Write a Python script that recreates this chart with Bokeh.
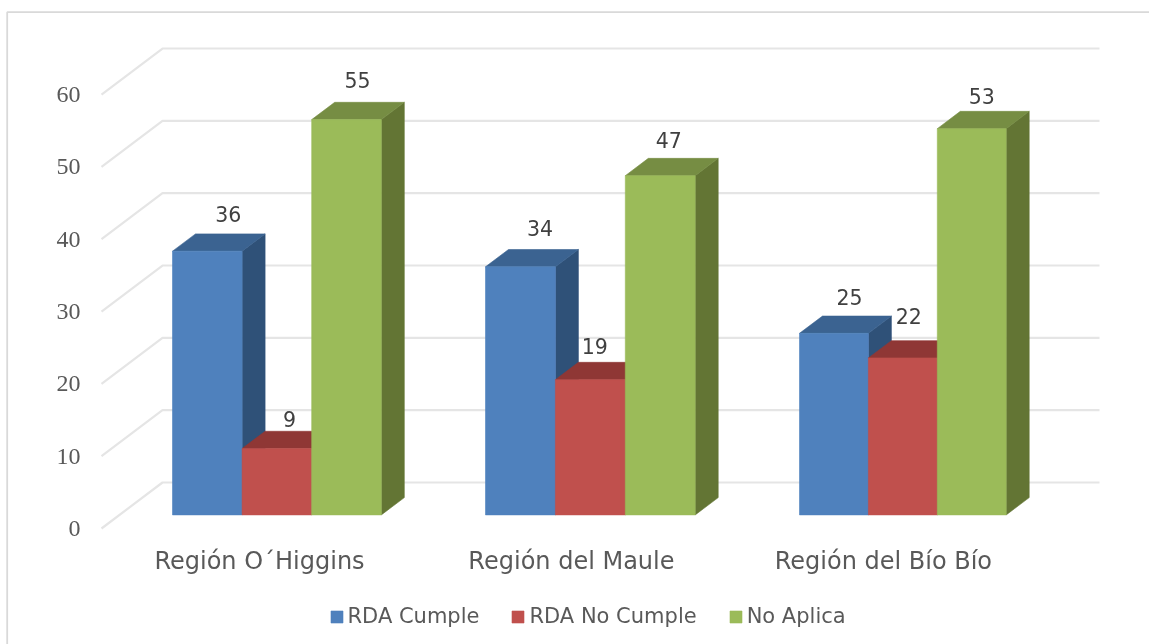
from bokeh.plotting import figure
from bokeh.embed import file_html
from bokeh.resources import INLINE
from bokeh.models import ColumnDataSource, FixedTicker, Legend, LegendItem, Range1d
from bokeh.core.properties import value

categories = ["Región O´Higgins", "Región del Maule", "Región del Bío Bío"]
rda_cumple = [36.46, 34.3, 25.1]
rda_no_cumple = [9.17, 18.7, 21.7]
no_aplica = [54.65, 46.9, 53.4]
series_names = ["RDA Cumple", "RDA No Cumple", "No Aplica"]
y_ticks = [0, 10, 20, 30, 40, 50, 60]

W, H = 1149, 644
PX_X, PX_Y = 313.5, 7.233     # pixels per category, pixels per unit
X0_PX, Y0_PX = 259.0, 528.0   # where category 0 and value 0 fall on the front plane
def dx(px): return px / PX_X
def dy(px): return px / PX_Y
def xd(px): return (px - X0_PX) / PX_X
def yd(py): return (Y0_PX - py) / PX_Y

p = figure(width=W, height=H, output_backend="svg", toolbar_location=None,
           x_range=Range1d(xd(0), xd(W)), y_range=Range1d(yd(H), yd(0)),
           min_border=0, min_border_left=0, min_border_right=0, min_border_top=0, min_border_bottom=0,
           outline_line_color=None, background_fill_color="white", border_fill_color="white")
p.styles = {"position": "fixed", "left": "0px", "top": "0px"}
p.grid.visible = False

# chart-area border
p.line([xd(6.7), xd(6.7), xd(W + 5)], [yd(H + 5), yd(11.7), yd(11.7)], line_color="#D9D9D9", line_width=1.8)

# floor-to-wall gridlines
WALL_DX, WALL_DY = 61, 46
wall_right = 1038
gx, gy = [], []
for t in y_ticks:
    gx.append([xd(101), xd(101 + WALL_DX), xd(wall_right + WALL_DX)])
    gy.append([t, t + dy(WALL_DY), t + dy(WALL_DY)])
p.multi_line(gx, gy, line_color="#E5E5E5", line_width=2.2)

# bars
FACE_DY = 13.6      # bar front plane above the wall front
DEPTH_X, DEPTH_Y = 23, 17.3
GROUP_LEFT = [172, 485, 799]
BAR_W = [69.6, 69.9, 68.9]
colors = [("#4F81BD", "#3B6391", "#2F5178"),
          ("#C0504D", "#8F3735", "#8C3836"),
          ("#9BBB59", "#768D43", "#637534")]
all_series = [rda_cumple, rda_no_cumple, no_aplica]
legend_items = []
for j, (vals, (front, top, side), name) in enumerate(zip(all_series, colors, series_names)):
    lefts = [xd(GROUP_LEFT[i]) + dx(BAR_W[i]) * j for i in range(len(vals))]
    rights = [l + dx(BAR_W[i]) for i, l in enumerate(lefts)]
    base = dy(FACE_DY)
    sx, sy, tx, ty = [], [], [], []
    for l, r, v in zip(lefts, rights, vals):
        sx.append([r, r + dx(DEPTH_X), r + dx(DEPTH_X), r])
        sy.append([base, base + dy(DEPTH_Y), base + v + dy(DEPTH_Y), base + v])
        tx.append([l, r, r + dx(DEPTH_X), l + dx(DEPTH_X)])
        ty.append([base + v, base + v, base + v + dy(DEPTH_Y), base + v + dy(DEPTH_Y)])
    p.patches(sx, sy, fill_color=side, line_color=side, line_width=0.6)
    p.patches(tx, ty, fill_color=top, line_color=top, line_width=0.6)
    src = ColumnDataSource(dict(l=lefts, r=rights, b=[base] * len(vals), t=[base + v for v in vals]))
    r_front = p.quad(left="l", right="r", bottom="b", top="t", source=src,
                     fill_color=front, line_color=front, line_width=0.6)
    legend_items.append(LegendItem(label=name, renderers=[r_front]))

# data labels (hand-placed in the original): offsets from each bar's front-face centre
label_dx = [[21, 19.5, 15.6], [12.5, 4.5, 6], [11, 8.5, 10]]
label_dy = [[37, 39, 36], [30, 34, 41.6], [39.5, 36, 33]]
for j, vals in enumerate(all_series):
    xs = [xd(GROUP_LEFT[i]) + dx(BAR_W[i]) * (j + 0.5) + dx(label_dx[j][i]) for i in range(len(vals))]
    ys = [dy(FACE_DY) + v + dy(label_dy[j][i]) for i, v in enumerate(vals)]
    p.text(xs, ys, text=[f"{v:.0f}" for v in vals], text_font=value("DejaVu Sans"),
           text_font_size="20.5px", text_color="#404040", text_align="center", text_baseline="middle")

# axes
p.yaxis.fixed_location = xd(90)
p.yaxis.ticker = FixedTicker(ticks=y_ticks)
p.yaxis.axis_line_color = None
p.yaxis.major_tick_line_color = None
p.yaxis.minor_tick_line_color = None
p.yaxis.major_tick_out = 0
p.yaxis.major_tick_in = 0
p.yaxis.major_label_standoff = 10
p.yaxis.major_label_text_font = "Liberation Serif"
p.yaxis.major_label_text_font_size = "24px"
p.yaxis.major_label_text_color = "#595959"

p.xaxis.fixed_location = 0
p.xaxis.ticker = FixedTicker(ticks=[0, 0.995, 1.99])
p.xaxis.major_label_overrides = {0: categories[0], 0.995: categories[1], 1.99: categories[2]}
p.xaxis.axis_line_color = None
p.xaxis.major_tick_line_color = None
p.xaxis.minor_tick_line_color = None
p.xaxis.major_tick_out = 0
p.xaxis.major_tick_in = 0
p.xaxis.major_label_standoff = 18
p.xaxis.major_label_text_font = "DejaVu Sans"
p.xaxis.major_label_text_font_size = "24px"
p.xaxis.major_label_text_color = "#595959"

legend = Legend(items=legend_items, orientation="horizontal", location=(328.5, 16),
                padding=0, margin=0, spacing=31, glyph_width=15, glyph_height=15, label_standoff=4,
                label_text_font="DejaVu Sans", label_text_font_size="21px", label_text_color="#595959",
                border_line_color=None, background_fill_color=None, background_fill_alpha=0)
p.add_layout(legend, "center")

open("out.html", "w").write(file_html(p, INLINE))
